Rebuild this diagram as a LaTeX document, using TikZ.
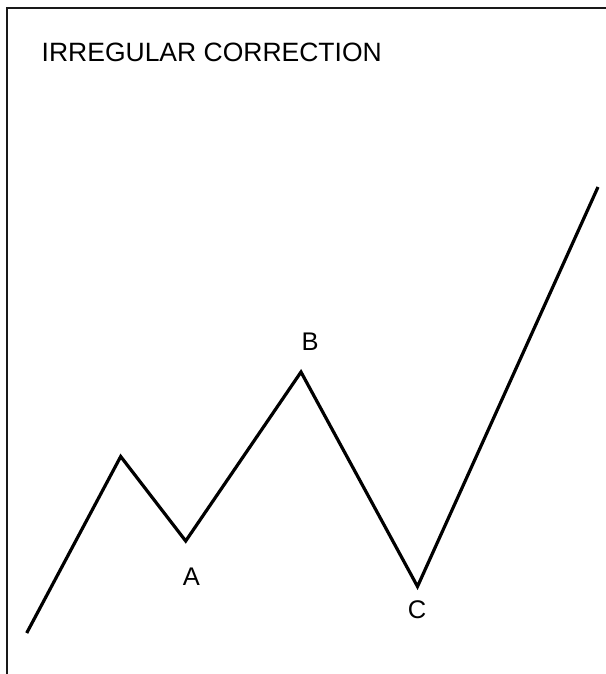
\documentclass[tikz,border=0pt]{standalone}
\usepackage{fontspec}
\setmainfont{Liberation Sans}
\begin{document}
\begin{tikzpicture}[x=1pt,y=-1pt,
  wave/.style={line width=3.2pt,line join=miter,line cap=butt},
  frame/.style={line width=2.4pt,draw=black!90},
  lbl/.style={font=\fontsize{25.5}{30}\selectfont,inner sep=0pt,anchor=center}]
\useasboundingbox (0,0) rectangle (605,674);
\fill[white] (0,0) rectangle (605,674);
\coordinate (tl) at (7,8);
\coordinate (tr) at (606,8);
\coordinate (bl) at (7,675);
\draw[frame] (tr) -- (tl) -- (bl);
\node[font=\fontsize{26.5}{30}\selectfont,anchor=base west,inner sep=0pt] (title) at (41.5,62) {IRREGULAR CORRECTION};
\coordinate (p0) at (26.7,633);
\coordinate (p1) at (120.7,456.5);
\coordinate (pA) at (185.7,541);
\coordinate (pB) at (301,372);
\coordinate (pC) at (417.5,586.5);
\coordinate (p5) at (598,187);
\draw[wave] (p0) -- (p1) -- (pA) -- (pB) -- (pC) -- (p5);
\node[lbl] (A) at (191.5,577) {A};
\node[lbl] (B) at (310,341.5) {B};
\node[lbl] (C) at (417,610) {C};
\end{tikzpicture}
\end{document}
